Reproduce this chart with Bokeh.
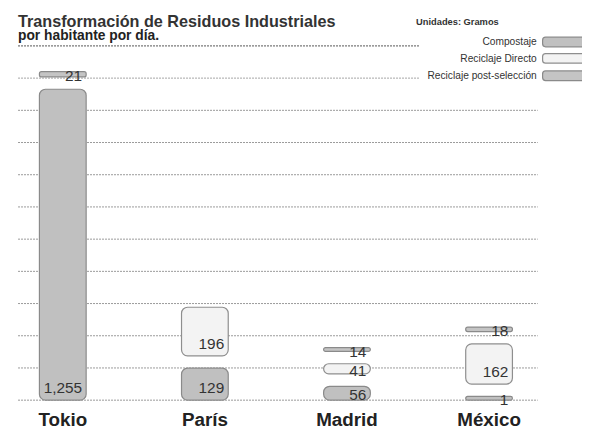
from bokeh.plotting import figure
from bokeh.models import ColumnDataSource, Label, BoxAnnotation, Range1d
from bokeh.core.properties import value
from bokeh.embed import file_html
from bokeh.resources import INLINE

# ---------------- data ----------------
cities = ["Tokio", "París", "Madrid", "México"]
compostaje = [1255, 129, 56, 1]
reciclaje_directo = [0, 196, 41, 162]
reciclaje_post = [21, 0, 14, 18]

series_names = ["Compostaje", "Reciclaje Directo", "Reciclaje post-selección"]
series_values = [compostaje, reciclaje_directo, reciclaje_post]
series_fill = ["#c0c0c0", "#f3f3f3", "#c4c4c4"]
series_line = ["#8a8a8a", "#8e8e8e", "#8a8a8a"]

title = "Transformación de Residuos Industriales"
subtitle = "por habitante por día."
units = "Unidades: Gramos"
grid_step = 130
grid_count = 12

# ---------------- layout ----------------
W, H = 582, 431
KX, KY = W / 598, H / 447          # design grid -> canvas
S = 33.4 * KY / grid_step          # pixels per gram
BASE = 414.5                       # baseline (design px from top)
X0, DXP = 64, 146                  # first category centre, spacing (design px)
BAR_W = 48 / DXP
GAP = 50                           # visual gap between stacked pieces (units)
MIN_H = 15                         # minimum visible height (units)
FONT = "Liberation Sans"
MID = 0.35                         # baseline -> visual middle, in em


def dx(rx):      # design px from left -> data x
    return (rx - X0) / DXP


def dy(ry):      # design px from top -> data y
    return (BASE - ry) * KY / S


def sx(rx):      # design px -> screen x
    return rx * KX


def sy(ry):      # design px from top -> screen y (from bottom)
    return H - ry * KY


def fs(px):
    return f"{px * KY:.1f}px"


p = figure(width=W, height=H, output_backend="svg", toolbar_location=None,
           x_range=Range1d(dx(0), dx(598)), y_range=Range1d(dy(447), dy(0)),
           min_border=0, x_axis_location=None, y_axis_location=None,
           outline_line_color=None, background_fill_color="white",
           border_fill_color="white")
for g in p.grid:
    g.visible = False

# ---------------- grid lines ----------------
grid_vals = [grid_step * k for k in range(grid_count)]
long_vals = grid_vals[:-2]
p.segment(x0=[dx(18)] * len(long_vals), x1=[dx(552)] * len(long_vals),
          y0=long_vals, y1=long_vals, line_color="#9a9a9a", line_width=1,
          line_dash="2 1")
p.segment(x0=[dx(18)], x1=[dx(430)], y0=[grid_vals[-2]], y1=[grid_vals[-2]],
          line_color="#a5a5a5", line_width=1, line_dash="2 1")
p.segment(x0=[dx(18)], x1=[dx(430)], y0=[grid_vals[-1]], y1=[grid_vals[-1]],
          line_color="#555555", line_width=1, line_dash="2 1")

# ---------------- stacked pieces ----------------
big = dict(x=[], bottom=[], top=[], fill=[], line=[])
thin = dict(x=[], bottom=[], top=[], fill=[], line=[])
lab_big = dict(x=[], y=[], text=[])
lab_small = dict(x=[], y=[], text=[])
for i, city in enumerate(cities):
    cursor = None
    for s_idx, vals in enumerate(series_values):
        v = vals[i]
        if v == 0:
            continue
        bottom = 0 if cursor is None else cursor + GAP
        top = bottom + max(v, MIN_H)
        cursor = top
        h_px = (top - bottom) * S
        target = thin if h_px < 8 else big
        target["x"].append(i)
        target["bottom"].append(bottom)
        target["top"].append(top)
        target["fill"].append(series_fill[s_idx])
        target["line"].append(series_line[s_idx])
        if h_px > 22:
            lab_big["x"].append(i + BAR_W / 2)
            lab_big["y"].append(bottom)
            lab_big["text"].append(f"{v:,}")
        else:
            lab_small["x"].append(i + BAR_W / 2)
            lab_small["y"].append((bottom + top) / 2)
            lab_small["text"].append(f"{v:,}")

p.vbar(x="x", width=BAR_W, bottom="bottom", top="top", source=ColumnDataSource(big),
       fill_color="fill", line_color="line", line_width=1.2, border_radius=6)
p.vbar(x="x", width=BAR_W, bottom="bottom", top="top", source=ColumnDataSource(thin),
       fill_color="fill", line_color="line", line_width=1.2, border_radius=2)

p.text(x="x", y="y", text="text", source=ColumnDataSource(lab_big),
       text_font=value(FONT), text_font_size=fs(16), text_color="#333333",
       text_align="right", text_baseline="middle", x_offset=-4,
       y_offset=-(6.5 + MID * 16) * KY)
p.text(x="x", y="y", text="text", source=ColumnDataSource(lab_small),
       text_font=value(FONT), text_font_size=fs(16), text_color="#333333",
       text_align="right", text_baseline="middle", x_offset=-4, y_offset=2)

# ---------------- category labels ----------------
p.text(x=list(range(len(cities))), y=[dy(441 - MID * 19.5)] * len(cities), text=cities,
       text_font=value(FONT), text_font_size=fs(19.5), text_font_style="bold",
       text_color="#222222", text_align="center", text_baseline="middle")

# ---------------- titles ----------------
p.add_layout(Label(x=sx(18), y=sy(27 - MID * 16.8), x_units="screen", y_units="screen",
                   text=title, text_font=FONT, text_font_size=fs(16.8),
                   text_font_style="bold", text_color="#333333", text_baseline="middle"))
p.add_layout(Label(x=sx(18), y=sy(41 - MID * 14.3), x_units="screen", y_units="screen",
                   text=subtitle, text_font=FONT, text_font_size=fs(14.3),
                   text_font_style="bold", text_color="#222222", text_baseline="middle"))
p.add_layout(Label(x=sx(427), y=sy(22), x_units="screen", y_units="screen", text=units,
                   text_font=FONT, text_font_size=fs(9.6), text_font_style="bold",
                   text_color="#333333", text_baseline="middle"))

# ---------------- legend (text left of swatch) ----------------
leg_y = [43, 60, 78]
for name, fill, line, yy in zip(series_names, series_fill, series_line, leg_y):
    p.add_layout(Label(x=sx(551), y=sy(yy), x_units="screen", y_units="screen", text=name,
                       text_font=FONT, text_font_size=fs(10.6), text_color="#333333",
                       text_align="right", text_baseline="middle"))
    p.add_layout(BoxAnnotation(left=sx(557), right=sx(604), top=sy(yy - 5), bottom=sy(yy + 5),
                               left_units="screen", right_units="screen",
                               top_units="screen", bottom_units="screen",
                               fill_color=fill, fill_alpha=1, line_color=line,
                               line_alpha=1, line_width=1.2, border_radius=3))

open("out.html", "w").write(file_html(p, INLINE))
